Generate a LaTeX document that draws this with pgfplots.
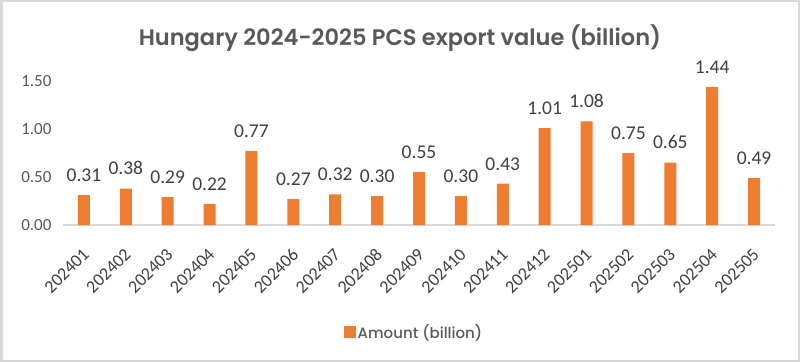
\documentclass[border=0pt]{standalone}
\usepackage{fontspec}
\setmainfont{Carlito}
\newfontfamily\poppins{Poppins Medium}
\newfontfamily\poppinssb{Poppins SemiBold}
\usepackage{pgfplots}
\pgfplotsset{compat=1.18}
\definecolor{barorange}{HTML}{ED7D31}
\definecolor{txtgray}{HTML}{595959}
\definecolor{dkgray}{HTML}{404040}
\definecolor{axgray}{HTML}{D9D9D9}
\begin{document}
\begin{tikzpicture}
\useasboundingbox (0,0) rectangle (800pt,362pt);
\draw[axgray, line width=2.5pt] (1.25pt,1.25pt) rectangle (798.75pt,360.75pt);
\node[font=\poppinssb\fontsize{22.5}{22.5}\selectfont, text=txtgray] at (400pt,324pt) {Hungary 2024-2025 PCS export value (billion)};
\begin{axis}[
  at={(63pt,137pt)}, anchor=south west,
  scale only axis, width=712pt, height=144pt,
  xmin=-0.5, xmax=16.5, ymin=0, ymax=1.5,
  axis x line=bottom, axis y line=left,
  x axis line style={axgray, line width=1.5pt, -},
  y axis line style={draw=none},
  major tick length=0pt,
  ytick={0,0.5,1,1.5},
  /pgf/number format/assume math mode=true,
  yticklabel style={font=\fontsize{17}{17}\selectfont, text=txtgray, xshift=-8pt, /pgf/number format/.cd, fixed, fixed zerofill, precision=2},
  xtick=data,
  xticklabels={202401,202402,202403,202404,202405,202406,202407,202408,202409,202410,202411,202412,202501,202502,202503,202504,202505},
  xticklabel style={font=\fontsize{18}{18}\selectfont, text=dkgray, xshift=4.5pt, yshift=-24pt, rotate=45, anchor=east},
  clip=false,
  legend style={at={(0.493,-0.743)}, anchor=center, draw=none, font=\poppins\fontsize{15}{15}\selectfont, text=txtgray},
]
\addplot[ybar, bar width=12pt, fill=barorange, draw=none, forget plot,
  nodes near coords,
  nodes near coords style={font=\fontsize{19.5}{19.5}\selectfont, text=dkgray, yshift=10pt, /pgf/number format/.cd, fixed, fixed zerofill, precision=2}] coordinates {
(0,0.31) (1,0.38) (2,0.29) (3,0.22) (4,0.77) (5,0.27) (6,0.32) (7,0.30) (8,0.55) (9,0.30) (10,0.43) (11,1.01) (12,1.08) (13,0.75) (14,0.65) (15,1.44) (16,0.49)};
\addlegendimage{legend image code/.code={\node[fill=barorange, minimum width=12pt, minimum height=12pt, inner sep=0pt, outer sep=0pt] at (6pt,0pt) {};}}
\addlegendentry{Amount (billion)}
\end{axis}
\end{tikzpicture}
\end{document}
